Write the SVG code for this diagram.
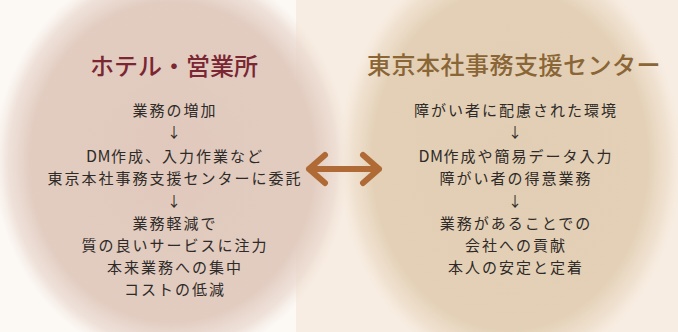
<svg xmlns="http://www.w3.org/2000/svg" width="678" height="332" viewBox="0 0 678 332">
<defs>
<radialGradient id="gl" cx="0.5" cy="0.5" r="0.5">
<stop offset="0" stop-color="#dfc6b9"/>
<stop offset="0.8" stop-color="#e1cabe"/>
<stop offset="0.92" stop-color="#e8d6cc" stop-opacity="0.7"/>
<stop offset="1" stop-color="#efe2d8" stop-opacity="0"/>
</radialGradient>
<radialGradient id="gr" cx="0.5" cy="0.5" r="0.5">
<stop offset="0" stop-color="#e2ceb4"/>
<stop offset="0.8" stop-color="#e3d0b6"/>
<stop offset="0.92" stop-color="#ecdcc8" stop-opacity="0.7"/>
<stop offset="1" stop-color="#f3e6d8" stop-opacity="0"/>
</radialGradient>
</defs>
<style>
.t{font-family:"Noto Sans CJK JP","Noto Sans",sans-serif;text-anchor:middle}
.title{font-size:24px;font-weight:500}
.body{font-size:15px;letter-spacing:2px;fill:#2e2a28}
.lat{font-size:16px;letter-spacing:0.5px}
.dn{font-size:14px;fill:#2e2a28}
.conn{fill:none;stroke:#b06a35;stroke-width:6;stroke-linecap:round;stroke-linejoin:round}
</style>
<rect x="0" y="0" width="678" height="332" fill="#f8ede2"/>
<rect x="0" y="0" width="296" height="332" fill="#fcf8f4"/>
<g id="hotel">
<ellipse cx="172" cy="162" rx="178" ry="200" fill="url(#gl)" opacity="0.95"/>
<text class="t title" x="174" y="75" fill="#7a2633">ホテル・営業所</text>
<text class="t body" x="175" y="116">業務の増加</text>
<text class="t dn" x="174" y="137">↓</text>
<text class="t body" x="175" y="162"><tspan class="lat">DM</tspan>作成、入力作業など</text>
<text class="t body" x="175" y="184">東京本社事務支援センターに委託</text>
<text class="t dn" x="174" y="206">↓</text>
<text class="t body" x="175" y="229">業務軽減で</text>
<text class="t body" x="175" y="251">質の良いサービスに注力</text>
<text class="t body" x="175" y="273">本来業務への集中</text>
<text class="t body" x="175" y="295">コストの低減</text>
</g>
<g id="center">
<ellipse cx="510" cy="160" rx="172" ry="212" fill="url(#gr)"/>
<text class="t title" x="514" y="74" fill="#8a6535" letter-spacing="0.5">東京本社事務支援センター</text>
<text class="t body" x="516" y="116">障がい者に配慮された環境</text>
<text class="t dn" x="515" y="137">↓</text>
<text class="t body" x="516" y="162"><tspan class="lat">DM</tspan>作成や簡易データ入力</text>
<text class="t body" x="516" y="184">障がい者の得意業務</text>
<text class="t dn" x="515" y="206">↓</text>
<text class="t body" x="516" y="229">業務があることでの</text>
<text class="t body" x="516" y="251">会社への貢献</text>
<text class="t body" x="516" y="273">本人の安定と定着</text>
</g>
<g id="connectors">
<path class="conn" d="M309 169 H379 M325 155 L309 169 L325 183 M363 155 L379 169 L363 183"/>
</g>
</svg>
